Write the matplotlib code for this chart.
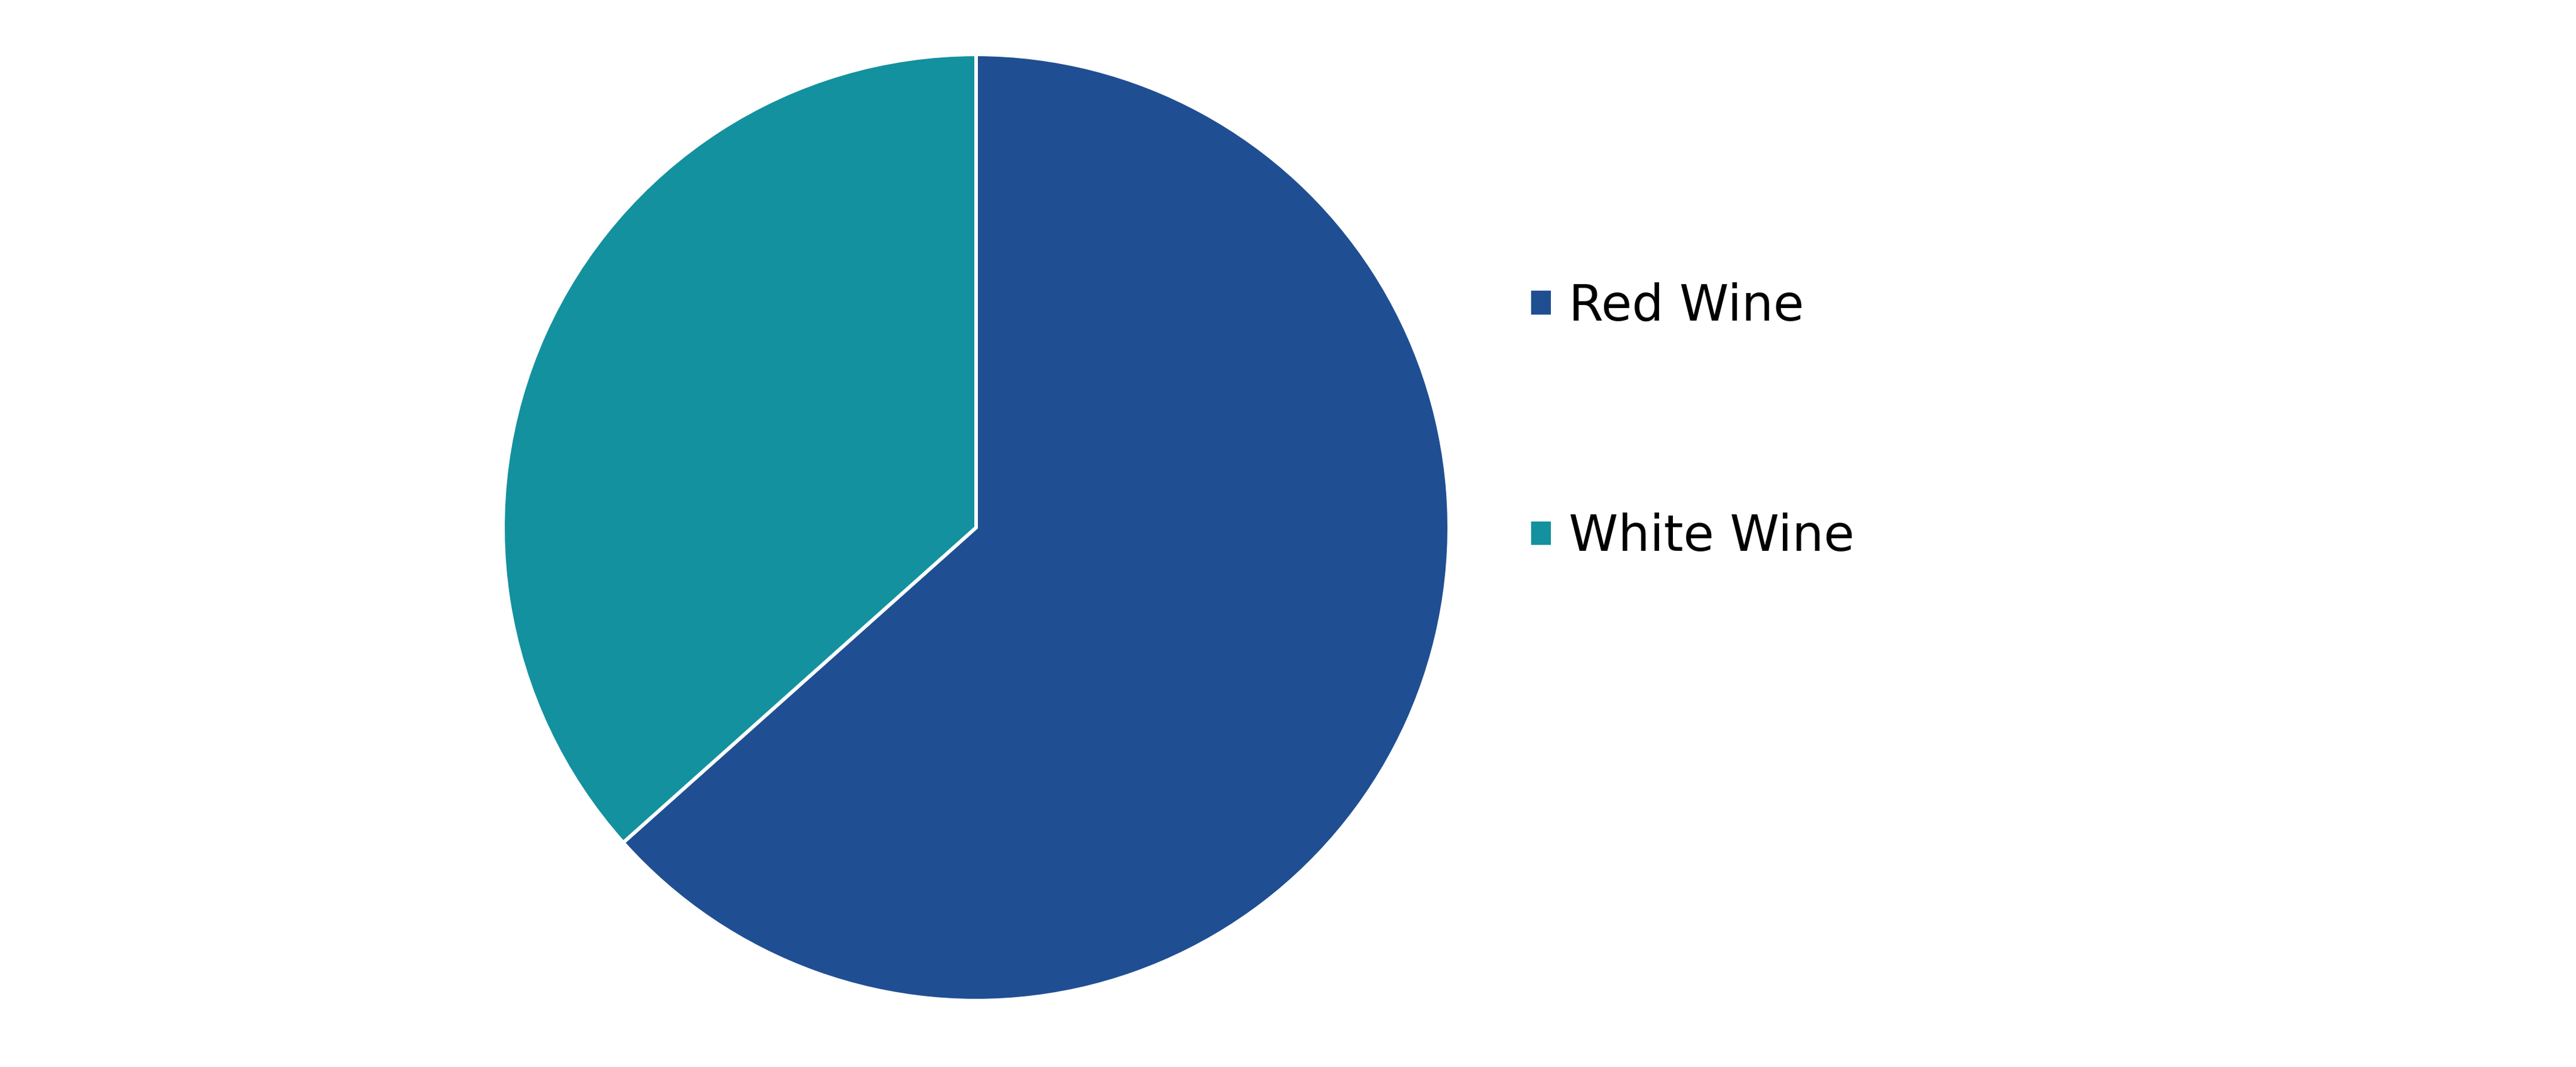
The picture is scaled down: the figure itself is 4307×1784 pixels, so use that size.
import matplotlib
matplotlib.use("Agg")
import matplotlib.pyplot as plt

categories = ["Red Wine", "White Wine"]
shares = [63.4, 36.6]
colors = ["#1F4F92", "#13919F"]

W, H = 4307, 1784
fig = plt.figure(figsize=(W / 100, H / 100), dpi=100)
cx, cy, r = 1632, 882, 791
ax = fig.add_axes([(cx - r) / W, (H - cy - r) / H, 2 * r / W, 2 * r / H])
ax.pie(shares, colors=colors, startangle=90, counterclock=False, radius=1,
       wedgeprops=dict(edgecolor="white", linewidth=4.3))
ax.set_xlim(-1, 1)
ax.set_ylim(-1, 1)
ax.set_aspect("equal")
ax.axis("off")

fs = 60
fpx = fs * 100 / 72
fig.legend(ax.patches, categories, loc="upper left",
           bbox_to_anchor=(2557 / W, 1 - 472 / H), frameon=False,
           fontsize=fs, handlelength=39 / fpx, handleheight=39 / fpx,
           handletextpad=0.32, labelspacing=3.65, borderpad=0, borderaxespad=0)

fig.savefig("out.png", dpi=100)
